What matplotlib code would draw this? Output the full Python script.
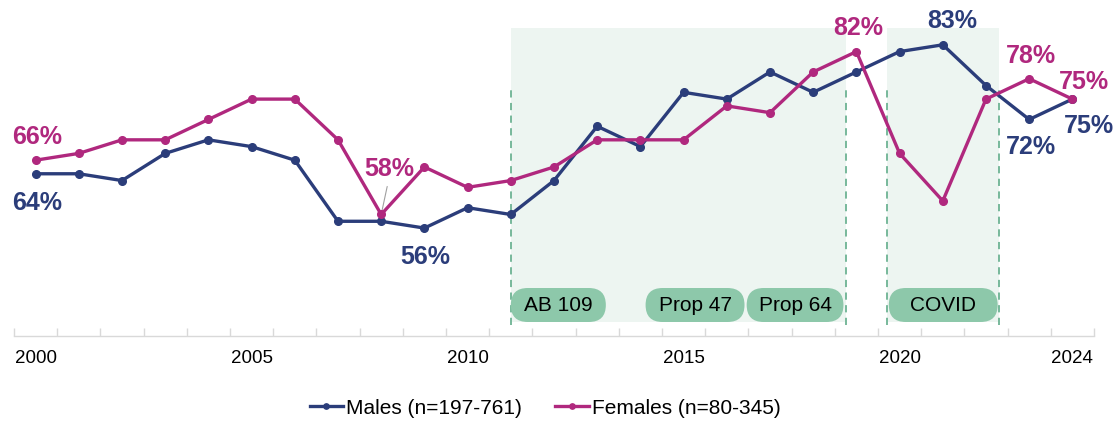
import matplotlib
matplotlib.use("Agg")
import matplotlib.pyplot as plt
from matplotlib.patches import FancyBboxPatch, Rectangle

years = list(range(2000, 2025))
males = [64, 64, 63, 67, 69, 68, 66, 57, 57, 56, 59, 58, 63, 71, 68, 76, 75, 79, 76, 79, 82, 83, 77, 72, 75]
females = [66, 67, 69, 69, 72, 75, 75, 69, 58, 65, 62, 63, 65, 69, 69, 69, 74, 73, 79, 82, 67, 60, 75, 78, 75]
tick_years = [2000, 2005, 2010, 2015, 2020, 2024]
legend_labels = ["Males (n=197-761)", "Females (n=80-345)"]

# shaded periods (in year units) and pill labels
periods = [(2011.0, 2018.75), (2019.7, 2022.3)]
pills = [("AB 109", 2011.0, 2013.2), ("Prop 47", 2014.12, 2016.41),
         ("Prop 64", 2016.46, 2018.70), ("COVID", 2019.75, 2022.27)]

# value labels: (year, offset px)
male_labels = [(2000, 2, -29), (2009, 1, -29), (2021, 9, 24), (2023, 2, -28), (2024, 17, -27)]
female_labels = [(2000, 2, 23), (2008, 8, 45), (2019, 2, 24), (2023, 2, 23), (2024, 12, 17)]

MALE_C = "#2B3D7A"
FEM_C = "#B0287E"
SHADE = "#EDF5F1"
PILL = "#8DC8AA"
DASH = "#6DB393"

plt.rcParams['font.family'] = ['Liberation Sans', 'DejaVu Sans']

fig = plt.figure(figsize=(11.17, 4.22), dpi=100)
ax = fig.add_axes([14/1117, (422-336)/422, (1094-14)/1117, 336/422])
ax.set_xlim(1999.5, 2024.5)
ymin, ymax = 40.1, 89.6
ax.set_ylim(ymin, ymax)

px_x = (1094-14)/25.0
px_y = 336/(ymax-ymin)
top_v = ymax - 28/px_y
bot_v = ymax - 322/px_y
dash_top = ymax - 89/px_y
dash_bot = ymax - 325/px_y

for (a, b) in periods:
    ax.add_patch(Rectangle((a, bot_v), b-a, top_v-bot_v, facecolor=SHADE, edgecolor='none', zorder=0))
    for xv in (a, b):
        ax.plot([xv, xv], [dash_bot, dash_top], color=DASH, lw=1.3, ls=(0, (4, 3)), zorder=1)

pill_top = ymax - 288/px_y
pill_bot = ymax - 322/px_y
r_px = 17
aspect = px_x/px_y
for (txt, a, b) in pills:
    r = r_px/px_x
    p = FancyBboxPatch((a+r, pill_bot + r*aspect), (b-a)-2*r, pill_top-pill_bot - 2*r*aspect,
                       boxstyle=f"round,pad={r},rounding_size={r}",
                       mutation_aspect=aspect,
                       facecolor=PILL, edgecolor='none', zorder=2)
    ax.add_patch(p)
    ax.text((a+b)/2, (pill_top+pill_bot)/2, txt, ha='center', va='center',
            fontsize=15, color='black', zorder=3)

ax.plot(years, males, color=MALE_C, lw=2.4, marker='o', ms=5.5, zorder=4, label=legend_labels[0])
ax.plot(years, females, color=FEM_C, lw=2.4, marker='o', ms=5.5, zorder=5, label=legend_labels[1])

for (yr, dx, dy) in male_labels:
    v = males[years.index(yr)]
    ax.annotate(f"{v}%", (yr, v), xytext=(dx, dy), textcoords='offset pixels',
                ha='center', va='center', fontsize=18, fontweight='bold', color=MALE_C, zorder=6)
for (yr, dx, dy) in female_labels:
    v = females[years.index(yr)]
    ax.annotate(f"{v}%", (yr, v), xytext=(dx, dy), textcoords='offset pixels',
                ha='center', va='center', fontsize=18, fontweight='bold', color=FEM_C, zorder=6)

# leader line for 58%
v08 = females[years.index(2008)]
ax.annotate("", (2008, v08), xytext=(6, 28), textcoords='offset pixels',
            arrowprops=dict(arrowstyle='-', color='#A0A0A0', lw=0.8, shrinkA=0, shrinkB=2), zorder=3)

for s in ['top', 'right', 'left']:
    ax.spines[s].set_visible(False)
ax.spines['bottom'].set_color('#D9D9D9')
ax.spines['bottom'].set_linewidth(1.0)
ax.set_yticks([])
ax.set_xticks([y + 0.5 for y in range(1999, 2025)], minor=True)
ax.set_xticks(tick_years)
ax.tick_params(axis='x', which='minor', direction='in', length=6, color='#D9D9D9', width=1)
ax.tick_params(axis='x', which='major', length=0, labelsize=13.5, pad=10)
ax.set_xticklabels([str(t) for t in tick_years])

leg = fig.legend(loc='center', bbox_to_anchor=(0.488, 14/422), ncol=2, frameon=False,
                 fontsize=15, handlelength=1.6, handletextpad=0.15, columnspacing=1.6,
                 markerscale=0.7)

fig.savefig("out.png", dpi=100)
